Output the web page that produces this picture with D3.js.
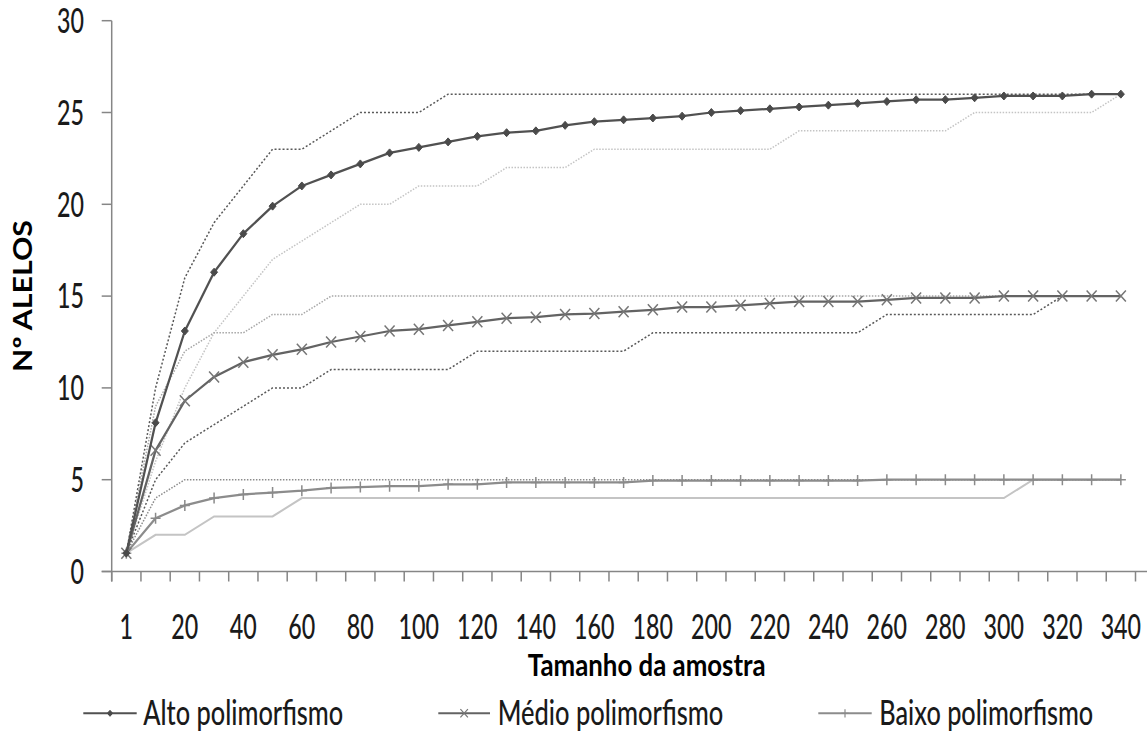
<!DOCTYPE html>
<html>
<head>
<meta charset="utf-8">
<script src="https://cdn.jsdelivr.net/npm/d3@7"></script>
<style>
  body { margin: 0; background: #fff; }
  svg { display: block; }
</style>
</head>
<body>
<svg id="chart" width="1147" height="735"></svg>
<script>
// Sample sizes (category axis) and the labels shown under it
const categories = [1, 10, 20, 30, 40, 50, 60, 70, 80, 90, 100, 110, 120, 130, 140, 150, 160, 170,
  180, 190, 200, 210, 220, 230, 240, 250, 260, 270, 280, 290, 300, 310, 320, 330, 340];
const labeledTicks = [1, 20, 40, 60, 80, 100, 120, 140, 160, 180, 200, 220, 240, 260, 280, 300, 320, 340];
const yTicks = [0, 5, 10, 15, 20, 25, 30];

const seriesNames = ["Alto polimorfismo", "Médio polimorfismo", "Baixo polimorfismo"];
const xTitle = "Tamanho da amostra";
const yTitle = "Nº ALELOS";

// Alto polimorfismo: mean, maximum and minimum number of alleles
const altoMedia = [1, 8.1, 13.1, 16.3, 18.4, 19.9, 21.0, 21.6, 22.2, 22.8, 23.1, 23.4, 23.7, 23.9, 24.0,
  24.3, 24.5, 24.6, 24.7, 24.8, 25.0, 25.1, 25.2, 25.3, 25.4, 25.5, 25.6, 25.7, 25.7, 25.8, 25.9, 25.9,
  25.9, 26.0, 26.0];
const altoMax = [1, 10, 16, 19, 21, 23, 23, 24, 25, 25, 25, 26, 26, 26, 26, 26, 26, 26, 26, 26, 26, 26,
  26, 26, 26, 26, 26, 26, 26, 26, 26, 26, 26, 26, 26];
const altoMin = [1, 6, 10, 13, 15, 17, 18, 19, 20, 20, 21, 21, 21, 22, 22, 22, 23, 23, 23, 23, 23, 23,
  23, 24, 24, 24, 24, 24, 24, 25, 25, 25, 25, 25, 26];

// Médio polimorfismo
const medioMedia = [1, 6.6, 9.3, 10.6, 11.4, 11.8, 12.1, 12.5, 12.8, 13.1, 13.2, 13.4, 13.6, 13.8, 13.85,
  14.0, 14.05, 14.15, 14.25, 14.4, 14.4, 14.5, 14.6, 14.7, 14.7, 14.7, 14.8, 14.9, 14.9, 14.9, 15, 15,
  15, 15, 15];
const medioMax = [1, 9, 12, 13, 13, 14, 14, 15, 15, 15, 15, 15, 15, 15, 15, 15, 15, 15, 15, 15, 15, 15,
  15, 15, 15, 15, 15, 15, 15, 15, 15, 15, 15, 15, 15];
const medioMin = [1, 5, 7, 8, 9, 10, 10, 11, 11, 11, 11, 11, 12, 12, 12, 12, 12, 12, 13, 13, 13, 13,
  13, 13, 13, 13, 14, 14, 14, 14, 14, 14, 15, 15, 15];

// Baixo polimorfismo
const baixoMedia = [1, 2.9, 3.6, 4.0, 4.2, 4.3, 4.4, 4.55, 4.6, 4.65, 4.65, 4.75, 4.75, 4.85, 4.85, 4.85,
  4.85, 4.85, 4.95, 4.95, 4.95, 4.95, 4.95, 4.95, 4.95, 4.95, 5, 5, 5, 5, 5, 5, 5, 5, 5];
const baixoMax = [1, 4, 5, 5, 5, 5, 5, 5, 5, 5, 5, 5, 5, 5, 5, 5, 5, 5, 5, 5, 5, 5, 5, 5, 5, 5, 5, 5,
  5, 5, 5, 5, 5, 5, 5];
const baixoMin = [1, 2, 2, 3, 3, 3, 4, 4, 4, 4, 4, 4, 4, 4, 4, 4, 4, 4, 4, 4, 4, 4, 4, 4, 4, 4, 4, 4,
  4, 4, 4, 5, 5, 5, 5];

const FONT = "Lato, 'Open Sans', sans-serif";
const AXIS = "#868686";
const LABEL_SIZE = 34;
const LABEL_WEIGHT = 500;

const svg = d3.select("#chart");

const x = d3.scaleBand().domain(categories).range([111.7, 1135.5]).padding(0);
const cx = c => x(c) + x.bandwidth() / 2;
const y = d3.scaleLinear().domain([0, 30]).range([571.5, 20.7]);

// horizontally condensed text: scale factor derived from a measured probe
function measure(str, size, weight) {
  const t = svg.append("text").attr("font-family", FONT).attr("font-size", size)
    .attr("font-weight", weight).text(str);
  const w = t.node().getComputedTextLength();
  t.remove();
  return w;
}
const digitK = 40.5 / measure("000", LABEL_SIZE, LABEL_WEIGHT);

// ---- axes ----
const axes = svg.append("g");
// y axis line and ticks
axes.append("line").attr("x1", x.range()[0]).attr("x2", x.range()[0])
  .attr("y1", y(30)).attr("y2", y(0) + 10).attr("stroke", AXIS).attr("stroke-width", 1.5);
axes.selectAll(".yt").data(yTicks).join("line")
  .attr("x1", x.range()[0] - 10).attr("x2", x.range()[0])
  .attr("y1", d => y(d)).attr("y2", d => y(d)).attr("stroke", AXIS).attr("stroke-width", 1.5);
// x axis line and ticks at category boundaries
axes.append("line").attr("x1", x.range()[0] - 10).attr("x2", 1147)
  .attr("y1", y(0)).attr("y2", y(0)).attr("stroke", AXIS).attr("stroke-width", 1.5);
const bounds = categories.map(c => x(c)).concat([x.range()[1]]);
axes.selectAll(".xt").data(bounds).join("line")
  .attr("x1", d => d).attr("x2", d => d)
  .attr("y1", y(0)).attr("y2", y(0) + 10).attr("stroke", AXIS).attr("stroke-width", 1.5);

// y tick labels
axes.selectAll(".yl").data(yTicks).join("g")
  .attr("transform", d => `translate(84,${y(d)}) scale(${digitK},1)`)
  .append("text").attr("text-anchor", "end").attr("dy", "0.36em")
  .attr("font-family", FONT).attr("font-size", LABEL_SIZE).attr("font-weight", LABEL_WEIGHT)
  .attr("fill", "#1a1a1a")
  .text(d => d);

// x tick labels
axes.selectAll(".xl").data(labeledTicks).join("g")
  .attr("transform", d => `translate(${cx(d)},639) scale(${digitK},1)`)
  .append("text").attr("text-anchor", "middle")
  .attr("font-family", FONT).attr("font-size", LABEL_SIZE).attr("font-weight", LABEL_WEIGHT)
  .attr("fill", "#1a1a1a")
  .text(d => d);

// axis titles
const xt = svg.append("g").attr("transform", "translate(646.7,676)");
const xtText = xt.append("text").attr("text-anchor", "middle").attr("font-family", FONT)
  .attr("font-size", 30).attr("font-weight", 700).attr("fill", "#000").text(xTitle);
xtText.attr("transform", `scale(${238 / xtText.node().getComputedTextLength()},1)`);

const ytSize = 30 * 152 / measure(yTitle, 30, 700);
const ytK = 19 / (0.7165 * ytSize);
svg.append("g").attr("transform", `translate(22.7,296) scale(${ytK},1)`)
  .append("text").attr("transform", "rotate(-90)").attr("text-anchor", "middle").attr("dy", "0.358em")
  .attr("font-family", FONT).attr("font-size", ytSize).attr("font-weight", 700).attr("fill", "#000")
  .text(yTitle);

// ---- series ----
const line = d3.line().x((d, i) => cx(categories[i])).y(d => y(d));

const boundLines = [
  { data: altoMin, color: "#c4c4c4", width: 1.5, dash: "1.5,1.5" },
  { data: medioMax, color: "#a6a6a6", width: 1.5, dash: "1.5,1.5" },
  { data: baixoMin, color: "#c4c4c4", width: 2, dash: null },
  { data: baixoMax, color: "#8c8c8c", width: 1.5, dash: "1.5,1.5" },
  { data: medioMin, color: "#595959", width: 1.5, dash: "2,2" },
  { data: altoMax, color: "#595959", width: 1.5, dash: "2,2" }
];
svg.append("g").selectAll("path").data(boundLines).join("path")
  .attr("d", d => line(d.data)).attr("fill", "none")
  .attr("stroke", d => d.color).attr("stroke-width", d => d.width)
  .attr("stroke-dasharray", d => d.dash);

const markers = {
  diamond: s => `M0,${-4 * s}L${3.5 * s},0L0,${4 * s}L${-3.5 * s},0Z`,
  cross: s => `M${-5 * s},${-5.5 * s}L${5 * s},${5.5 * s}M${-5 * s},${5.5 * s}L${5 * s},${-5.5 * s}`,
  plus: s => `M0,${-5.5 * s}V${5.5 * s}M${-5 * s},0H${5 * s}`
};

const meanSeries = [
  { name: seriesNames[2], data: baixoMedia, color: "#8c8c8c", mark: "plus", mcolor: "#8a8a8a", fill: false },
  { name: seriesNames[1], data: medioMedia, color: "#636363", mark: "cross", mcolor: "#767676", fill: false },
  { name: seriesNames[0], data: altoMedia, color: "#515151", mark: "diamond", mcolor: "#4a4a4a", fill: true }
];

const mg = svg.append("g");
meanSeries.forEach(s => {
  mg.append("path").attr("d", line(s.data)).attr("fill", "none")
    .attr("stroke", s.color).attr("stroke-width", 2.25).attr("stroke-linejoin", "round");
  mg.append("g").selectAll("path").data(s.data).join("path")
    .attr("transform", (d, i) => `translate(${cx(categories[i])},${y(d)})`)
    .attr("d", markers[s.mark](1))
    .attr("fill", s.fill ? s.mcolor : "none")
    .attr("stroke", s.mcolor).attr("stroke-width", s.fill ? 1 : 1.5);
});

// ---- legend ----
const legendItems = [
  { s: meanSeries[2], x0: 83.3, x1: 136.7, tx: 143.3, tw: 200 },
  { s: meanSeries[1], x0: 438.3, x1: 490, tx: 497.7, tw: 225.7 },
  { s: meanSeries[0], x0: 818.3, x1: 871.7, tx: 879.3, tw: 214 }
];
const lg = svg.append("g");
legendItems.forEach(it => {
  const ly = 713.3;
  lg.append("line").attr("x1", it.x0).attr("x2", it.x1).attr("y1", ly).attr("y2", ly)
    .attr("stroke", it.s.color).attr("stroke-width", 2);
  lg.append("path").attr("transform", `translate(${(it.x0 + it.x1) / 2},${ly})`)
    .attr("d", markers[it.s.mark](0.75))
    .attr("fill", it.s.fill ? it.s.mcolor : "none")
    .attr("stroke", it.s.mcolor).attr("stroke-width", it.s.fill ? 1 : 1.2);
  const t = lg.append("g").attr("transform", `translate(${it.tx},725)`)
    .append("text").attr("font-family", FONT).attr("font-size", LABEL_SIZE)
    .attr("font-weight", LABEL_WEIGHT).attr("fill", "#1a1a1a")
    .text(it.s.name);
  t.attr("transform", `scale(${it.tw / t.node().getComputedTextLength()},1)`);
});
</script>
</body>
</html>
